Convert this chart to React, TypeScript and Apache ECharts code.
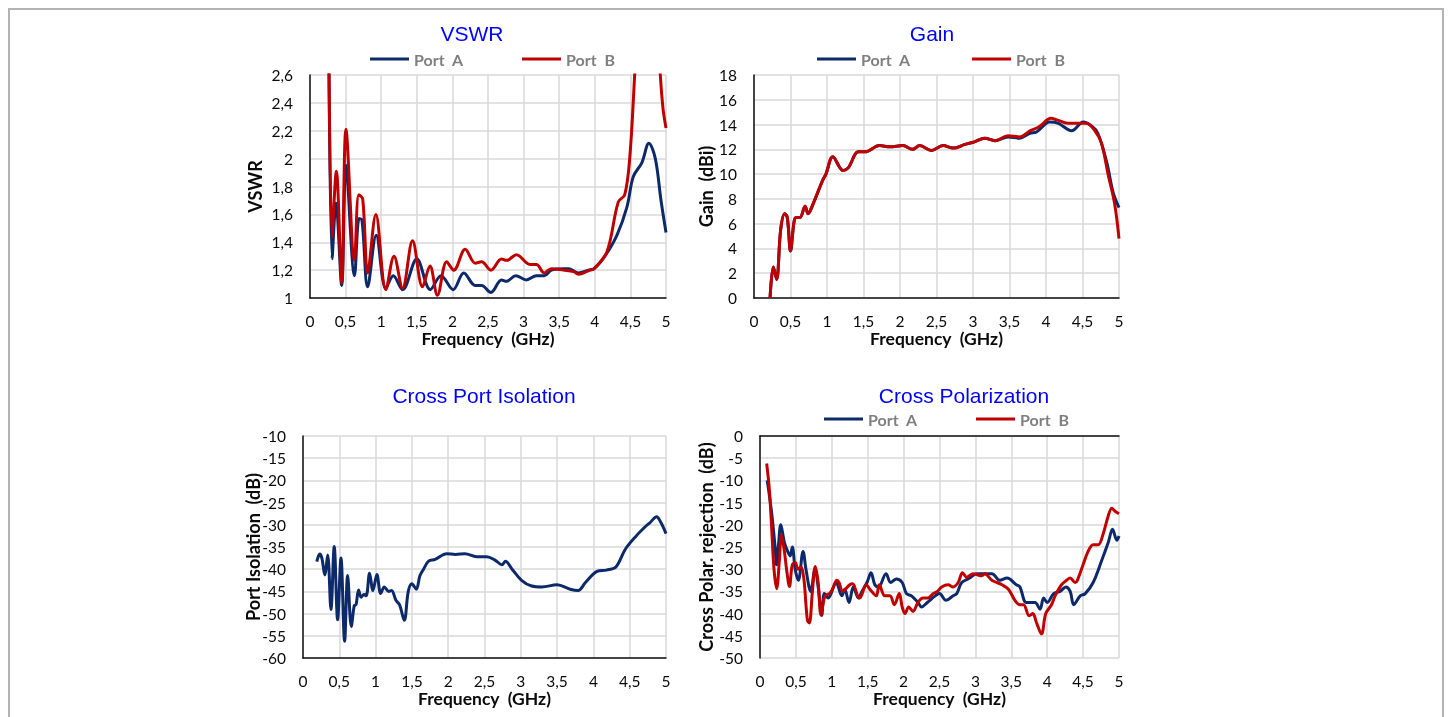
import React, { useEffect, useRef } from "react";
import * as echarts from "echarts";

// ---------- VSWR ----------
const vswrAFreq = [0.262, 0.31, 0.365, 0.445, 0.505, 0.625, 0.69, 0.73, 0.81, 0.93, 1.065, 1.17, 1.3, 1.5, 1.69, 1.84, 2.01, 2.16, 2.32, 2.41, 2.54, 2.69, 2.76, 2.89, 3.04, 3.18, 3.29, 3.39, 3.56, 3.63, 3.77, 3.91, 3.99, 4.14, 4.31, 4.45, 4.54, 4.66, 4.76, 4.85, 4.93, 5.0];
const vswrAVal = [3.0, 1.28, 1.68, 1.09, 1.95, 1.16, 1.57, 1.56, 1.08, 1.45, 1.07, 1.16, 1.06, 1.28, 1.06, 1.16, 1.06, 1.18, 1.09, 1.09, 1.04, 1.13, 1.12, 1.16, 1.13, 1.16, 1.16, 1.2, 1.21, 1.21, 1.18, 1.2, 1.21, 1.3, 1.45, 1.65, 1.87, 1.97, 2.11, 2.0, 1.7, 1.47];
const vswrBFreq = [0.262, 0.31, 0.37, 0.445, 0.505, 0.625, 0.685, 0.74, 0.81, 0.925, 1.065, 1.18, 1.3, 1.44, 1.58, 1.685, 1.79, 1.92, 2.02, 2.18, 2.32, 2.41, 2.54, 2.69, 2.76, 2.9, 3.09, 3.18, 3.29, 3.39, 3.56, 3.7, 3.77, 3.93, 3.99, 4.17, 4.33, 4.42, 4.49, 4.56, 4.62, 4.85, 4.92, 4.96, 5.0];
const vswrBVal = [3.0, 1.44, 1.91, 1.11, 2.21, 1.27, 1.74, 1.71, 1.18, 1.6, 1.06, 1.3, 1.07, 1.41, 1.08, 1.23, 1.02, 1.26, 1.2, 1.35, 1.25, 1.26, 1.2, 1.28, 1.27, 1.31, 1.24, 1.24, 1.18, 1.21, 1.2, 1.19, 1.17, 1.2, 1.21, 1.33, 1.69, 1.74, 2.0, 2.6, 3.2, 3.3, 2.6, 2.35, 2.22];

// ---------- Gain ----------
const gainAFreq = [0.22, 0.265, 0.31, 0.365, 0.42, 0.456, 0.5, 0.55, 0.58, 0.63, 0.7, 0.74, 0.81, 0.94, 0.985, 1.08, 1.22, 1.29, 1.43, 1.52, 1.72, 1.86, 2.04, 2.17, 2.27, 2.43, 2.59, 2.73, 2.89, 3.02, 3.16, 3.3, 3.48, 3.64, 3.78, 3.87, 4.05, 4.17, 4.35, 4.51, 4.62, 4.71, 4.83, 4.92, 5.0];
const gainAVal = [0, 2.5, 1.5, 5.5, 6.8, 6.5, 3.8, 6.2, 6.5, 6.5, 7.4, 6.8, 7.6, 9.5, 10.0, 11.4, 10.3, 10.5, 11.8, 11.8, 12.3, 12.2, 12.3, 12.0, 12.3, 11.9, 12.3, 12.1, 12.4, 12.6, 12.9, 12.7, 13.0, 12.9, 13.3, 13.4, 14.2, 14.1, 13.5, 14.2, 13.9, 13.3, 11.0, 8.5, 7.3];
const gainBFreq = [0.22, 0.265, 0.31, 0.365, 0.42, 0.456, 0.5, 0.55, 0.58, 0.63, 0.7, 0.74, 0.81, 0.94, 0.985, 1.08, 1.22, 1.29, 1.43, 1.52, 1.72, 1.86, 2.04, 2.17, 2.27, 2.43, 2.59, 2.73, 2.89, 3.02, 3.16, 3.3, 3.48, 3.64, 3.78, 3.9, 4.07, 4.14, 4.3, 4.46, 4.55, 4.67, 4.76, 4.85, 4.94, 5.0];
const gainBVal = [0, 2.5, 1.5, 5.5, 6.8, 6.5, 3.8, 6.2, 6.5, 6.5, 7.4, 6.8, 7.6, 9.5, 10.0, 11.4, 10.3, 10.5, 11.8, 11.8, 12.3, 12.2, 12.3, 12.0, 12.3, 11.9, 12.3, 12.1, 12.4, 12.6, 12.9, 12.7, 13.1, 13.0, 13.5, 13.8, 14.5, 14.4, 14.1, 14.1, 14.1, 13.5, 12.5, 10.0, 7.6, 4.8];

// ---------- Cross Port Isolation ----------
const isoFreq = [0.19, 0.23, 0.26, 0.3, 0.34, 0.385, 0.43, 0.477, 0.523, 0.573, 0.615, 0.665, 0.706, 0.73, 0.766, 0.8, 0.84, 0.87, 0.917, 0.963, 1.018, 1.07, 1.12, 1.18, 1.22, 1.28, 1.33, 1.395, 1.45, 1.5, 1.56, 1.61, 1.66, 1.73, 1.82, 1.98, 2.1, 2.23, 2.39, 2.53, 2.65, 2.74, 2.79, 2.88, 3.01, 3.15, 3.29, 3.5, 3.68, 3.79, 3.89, 4.05, 4.18, 4.31, 4.44, 4.59, 4.71, 4.78, 4.87, 4.93, 5.0];
const isoVal = [-38.3, -36.6, -37.5, -41.3, -36.8, -49.1, -34.9, -51.4, -37.5, -56.2, -41.4, -52.9, -48.2, -48, -44.7, -46.3, -45.7, -46, -40.9, -44.8, -41.2, -45.5, -44, -45, -44.8, -47, -48, -51.5, -45, -43.3, -44.5, -41.5, -40, -38.2, -37.8, -36.5, -36.7, -36.5, -37.2, -37.2, -38, -39, -38.2, -40, -42.5, -43.8, -44, -43.5, -44.5, -44.8, -43, -40.5, -40.2, -39.5, -35.5, -32.5, -30.5, -29.5, -28.2, -29.5, -32];

// ---------- Cross Polarization ----------
const xpolAFreq = [0.1, 0.16, 0.21, 0.23, 0.255, 0.29, 0.34, 0.385, 0.42, 0.45, 0.49, 0.534, 0.6, 0.64, 0.706, 0.766, 0.81, 0.86, 0.896, 0.95, 1.06, 1.14, 1.18, 1.24, 1.3, 1.37, 1.42, 1.49, 1.546, 1.6, 1.65, 1.755, 1.82, 1.9, 1.98, 2.04, 2.11, 2.2, 2.25, 2.33, 2.44, 2.5, 2.59, 2.69, 2.74, 2.81, 2.92, 3.02, 3.23, 3.34, 3.44, 3.57, 3.62, 3.71, 3.83, 3.9, 3.95, 4.0, 4.09, 4.18, 4.26, 4.32, 4.37, 4.46, 4.53, 4.64, 4.76, 4.85, 4.91, 4.97, 5.0];
const xpolAVal = [-10, -17, -25, -29, -25, -20, -24, -26, -27, -25, -30, -32.5, -26, -30, -35, -30, -34, -40.4, -35.5, -36.5, -33, -36, -34.5, -37.5, -34, -36.5, -35, -33, -30.8, -33.5, -34, -31, -33, -32.2, -33, -35.5, -36, -37.5, -38.5, -37.5, -36, -35.5, -37, -36, -35.5, -33, -32, -31, -31, -32.5, -32, -33.5, -34, -37.5, -37.5, -39, -36.5, -37.5, -35.5, -35, -34, -35, -38, -36, -35.5, -33, -28, -24, -21, -23.5, -22.5];
const xpolBFreq = [0.093, 0.13, 0.16, 0.195, 0.232, 0.27, 0.297, 0.34, 0.37, 0.41, 0.45, 0.49, 0.53, 0.57, 0.61, 0.66, 0.687, 0.73, 0.77, 0.81, 0.85, 0.905, 0.966, 1.01, 1.07, 1.1, 1.15, 1.19, 1.25, 1.29, 1.36, 1.39, 1.48, 1.53, 1.62, 1.66, 1.74, 1.81, 1.87, 1.94, 1.98, 2.02, 2.07, 2.13, 2.2, 2.27, 2.34, 2.41, 2.47, 2.53, 2.62, 2.69, 2.76, 2.82, 2.88, 2.97, 3.09, 3.13, 3.23, 3.3, 3.37, 3.46, 3.55, 3.62, 3.67, 3.75, 3.8, 3.85, 3.92, 3.98, 4.06, 4.11, 4.2, 4.27, 4.32, 4.39, 4.42, 4.5, 4.57, 4.64, 4.71, 4.78, 4.85, 4.9, 4.95, 5.0];
const xpolBVal = [-6.2, -12, -20, -30, -34.4, -28, -22.3, -26, -30, -33.9, -29, -28.5, -30, -29.5, -32, -41.5, -42.1, -35, -29.4, -33, -40.3, -36, -35.5, -34.5, -32.5, -33, -35, -34.5, -33.5, -33.3, -36, -36.5, -33.5, -34.5, -36, -33.5, -36, -36, -38, -35.5, -38.5, -40, -38.5, -39.5, -37.5, -36.5, -36.5, -35.5, -35, -34, -33.5, -34, -33, -30.8, -31.8, -31, -31.5, -31, -32.5, -33, -33.5, -34.5, -37, -38, -38, -40.5, -40, -42, -44.6, -40, -38, -36, -33.5, -32.5, -32, -33, -32.5, -29, -26, -24.5, -24.5, -22, -18, -16.3, -17, -17.5];

const NAVY = "#0c2a69";
const RED = "#c00000";
const PORT_A = "Port  A";
const PORT_B = "Port  B";

const zip = (f: number[], v: number[]) => f.map((x, i) => [x, v[i]]);

export default function App() {
  const ref = useRef<HTMLDivElement>(null);
  useEffect(() => {
    const chart = echarts.init(ref.current!, null, { renderer: "svg" });
    const fmt = (v: number) => String(Math.round(v * 10) / 10).replace(".", ",");
    const grids = [
      { left: 310, top: 75, width: 356, height: 223 },
      { left: 754, top: 75, width: 365, height: 223 },
      { left: 303, top: 436, width: 363, height: 222 },
      { left: 760, top: 436, width: 359, height: 222 },
    ];
    const yCfg = [
      { min: 1, max: 2.6, interval: 0.2, name: "VSWR", gap: 46 },
      { min: 0, max: 18, interval: 2, name: "Gain  (dBi)", gap: 39 },
      { min: -60, max: -10, interval: 5, name: "Port Isolation  (dB)", gap: 41 },
      { min: -50, max: 0, interval: 5, name: "Cross Polar. rejection  (dB)", gap: 45 },
    ];
    const labelFont = { fontFamily: "Lato", fontSize: 15.5, color: "#0a0a0a" };
    const xNameFont = { fontFamily: "Lato", fontSize: 17.5, fontWeight: "bold" as const, color: "#0a0a0a" };
    const yNameFont = { fontFamily: "Lato", fontSize: 18, fontWeight: "bold" as const, color: "#0a0a0a" };
    const axisLine = { show: true, lineStyle: { color: "#111", width: 1.5 } };
    const splitLine = { show: true, lineStyle: { color: "#d9d9d9", width: 1.5 } };

    const xAxis = grids.map((_, i) => ({
      type: "value",
      gridIndex: i,
      min: 0,
      max: 5,
      interval: 0.5,
      name: "Frequency  (GHz)",
      nameLocation: "middle",
      nameGap: 31,
      nameMoveOverlap: false,
      nameTextStyle: xNameFont,
      axisLine,
      axisTick: { show: false },
      splitLine,
      axisLabel: { ...labelFont, margin: 15, formatter: fmt },
    }));
    const yAxis = yCfg.map((c, i) => ({
      type: "value",
      gridIndex: i,
      min: c.min,
      max: c.max,
      interval: c.interval,
      name: c.name,
      nameLocation: "middle",
      nameGap: c.gap,
      nameRotate: 90,
      nameMoveOverlap: false,
      nameTextStyle: yNameFont,
      axisLine,
      axisTick: { show: false },
      splitLine,
      axisLabel: { ...labelFont, margin: 17, formatter: fmt },
    }));

    const mk = (name: string, color: string, idx: number, f: number[], v: number[]) => ({
      name,
      type: "line",
      xAxisIndex: idx,
      yAxisIndex: idx,
      data: zip(f, v),
      smooth: 0.35,
      showSymbol: false,
      symbol: "none",
      clip: true,
      color,
      lineStyle: { color, width: 3 },
    });

    const legendText = { fontFamily: "Lato", fontSize: 16, fontWeight: "bold" as const, color: "#808080" };
    const leg = (name: string, left: number, top: number) => ({
      data: [name],
      left,
      top,
      padding: 0,
      icon: "rect",
      itemWidth: 39,
      itemHeight: 3,
      itemGap: 0,
      textStyle: legendText,
      selectedMode: false,
    });

    const title = (text: string, x: number, y: number) => ({
      type: "text",
      x,
      y,
      style: {
        text,
        fill: "#0000ff",
        font: '21px "Liberation Sans", Arial, sans-serif',
        align: "center",
        verticalAlign: "middle",
        textAlign: "center",
        textVerticalAlign: "middle",
      },
    });

    chart.setOption({
      animation: false,
      grid: grids,
      xAxis,
      yAxis,
      legend: [
        leg(PORT_A, 370, 51),
        leg(PORT_B, 522, 51),
        leg(PORT_A, 817, 51),
        leg(PORT_B, 972, 51),
        leg(PORT_A, 824, 411),
        leg(PORT_B, 976, 411),
      ],
      graphic: [
        title("VSWR", 472, 33),
        title("Gain", 932, 33),
        title("Cross Port Isolation", 484, 395),
        title("Cross Polarization", 964, 395),
      ],
      series: [
        mk(PORT_A, NAVY, 0, vswrAFreq, vswrAVal),
        mk(PORT_B, RED, 0, vswrBFreq, vswrBVal),
        mk(PORT_A, NAVY, 1, gainAFreq, gainAVal),
        mk(PORT_B, RED, 1, gainBFreq, gainBVal),
        mk("Isolation", NAVY, 2, isoFreq, isoVal),
        mk(PORT_A, NAVY, 3, xpolAFreq, xpolAVal),
        mk(PORT_B, RED, 3, xpolBFreq, xpolBVal),
      ],
    });
    return () => chart.dispose();
  }, []);

  return (
    <>
      <div
        style={{
          position: "fixed",
          left: 8,
          top: 8,
          width: 1436,
          height: 720,
          boxSizing: "border-box",
          border: "2px solid #b3b3b3",
          borderBottom: "none",
        }}
      />
      <div ref={ref} style={{ position: "fixed", left: 0, top: 0, width: 1453, height: 717 }} />
    </>
  );
}
